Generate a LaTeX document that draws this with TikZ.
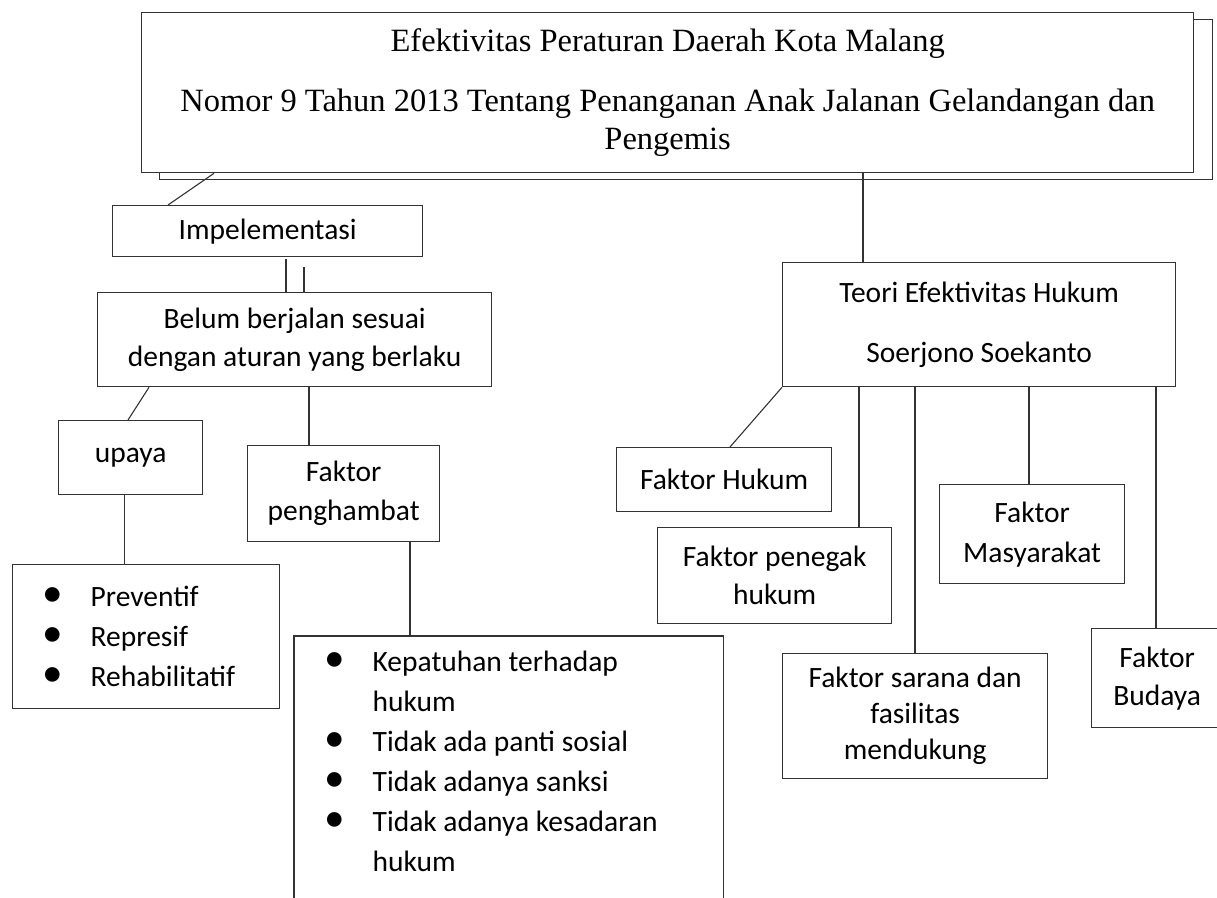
\documentclass[tikz,border=0pt]{standalone}
\usepackage{fontspec}
\usepackage{graphicx}
\setmainfont{Carlito}
\newfontfamily\timesfont{Liberation Serif}
\usetikzlibrary{positioning}
\newcommand{\itm}{\hspace*{30pt}\makebox[48pt][l]{\scalebox{1.4}{\textbullet}}}

\begin{document}
\begin{tikzpicture}[x=1pt,y=-1pt,thin]
                \tikzset{box/.style={draw=black!80, line width=1.3pt, fill=white, align=center, anchor=north west, font=\fontsize{29.5}{38}\selectfont},
                         conn/.style={draw=black!80, line width=1.1pt}}
                \useasboundingbox (0,0) rectangle (1217,897);
                \clip (0,0) rectangle (1217,897);
                \node[box, minimum width=1053, minimum height=160] (S) at (159,19) {};
                \node[box, minimum width=1052, minimum height=160, font=\timesfont\fontsize{32.5}{38}\selectfont] (T) at (141,12) {Efektivitas Peraturan Daerah Kota Malang\\[22pt] Nomor 9 Tahun 2013 Tentang Penanganan Anak Jalanan Gelandangan dan\\ Pengemis};
                \node[box, minimum width=310, minimum height=51] (I) at (112,205) {Impelementasi};
                \node[box, minimum width=394, minimum height=94] (B) at (97,292) {Belum berjalan sesuai\\ dengan aturan yang berlaku};
                \node[box, minimum width=144, minimum height=74] (U) at (58,420) {upaya};
                \node[box, text width=267, minimum height=144, inner xsep=0, align=flush left, font=\fontsize{29.5}{40}\selectfont] (P) at (12,564) {\itm Preventif\\ \itm Represif\\ \itm Rehabilitatif};
                \node[box, minimum width=192, minimum height=96, font=\fontsize{29.5}{39}\selectfont] (F) at (247,445) {Faktor\\ penghambat};
                \node[box, draw=none, text width=428, minimum height=250, inner xsep=0, align=flush left, font=\fontsize{29.5}{40}\selectfont] (K) at (294,636) {\itm Kepatuhan terhadap\\ \hspace*{78pt}hukum\\ \itm Tidak ada panti sosial\\ \itm Tidak adanya sanksi\\ \itm Tidak adanya kesadaran\\ \hspace*{78pt}hukum};
                \draw[draw=black!80, line width=1.3pt] ([yshift=-20pt]K.south west) -- (K.north west) -- (K.north east) -- ([yshift=-20pt]K.south east);
                \node[box, minimum width=393, minimum height=124] (R) at (782,262) {Teori Efektivitas Hukum\\[22pt] Soerjono Soekanto};
                \node[box, minimum width=215, minimum height=64] (H) at (616,447) {Faktor Hukum};
                \node[box, minimum width=234, minimum height=96] (G) at (657,527) {Faktor penegak\\ hukum};
                \node[box, minimum width=265, minimum height=125, font=\fontsize{29.5}{36}\selectfont] (N) at (782,653) {Faktor sarana dan\\ fasilitas\\ mendukung};
                \node[box, minimum width=185, minimum height=99, font=\fontsize{29.5}{40}\selectfont] (M) at (939,484) {Faktor\\ Masyarakat};
                \node[box, minimum width=131, minimum height=99] (D) at (1091,628) {Faktor\\ Budaya};
                \coordinate (r1) at ([xshift=81pt]R.north west);
                \coordinate (b1) at ([xshift=189pt]B.north west);
                \coordinate (b2) at ([xshift=207pt]B.north west);
                \coordinate (u1) at ([xshift=-6pt]U.south);
                \coordinate (f1) at ([xshift=62pt]F.north west);
                \coordinate (f2) at ([xshift=163pt]F.south west);
                \coordinate (g1) at ([xshift=202pt]G.north west);
                \coordinate (n1) at ([xshift=133pt]N.north west);
                \coordinate (m1) at ([xshift=90pt]M.north west);
                \coordinate (d1) at ([xshift=65pt]D.north west);
                \path[conn] ([xshift=73pt]T.south west) edge ([xshift=56pt]I.north west);
                \path[conn] (r1 |- T.south) edge (r1);
                \path[conn] ([yshift=-2pt]b1 |- I.south) edge (b1);
                \path[conn] ([yshift=-10pt]b2 |- I.south) edge (b2);
                \path[conn] ([xshift=52pt]B.south west) edge ([xshift=70pt]U.north west);
                \path[conn] (u1) edge (u1 |- P.north);
                \path[conn] (f1 |- B.south) edge (f1);
                \path[conn] (f2) edge (f2 |- K.north);
                \path[conn] (R.south west) edge ([xshift=114pt]H.north west);
                \path[conn] (g1 |- R.south) edge (g1);
                \path[conn] (n1 |- R.south) edge (n1);
                \path[conn] (m1 |- R.south) edge (m1);
                \path[conn] (d1 |- R.south) edge (d1);
            \end{tikzpicture}
\end{document}
